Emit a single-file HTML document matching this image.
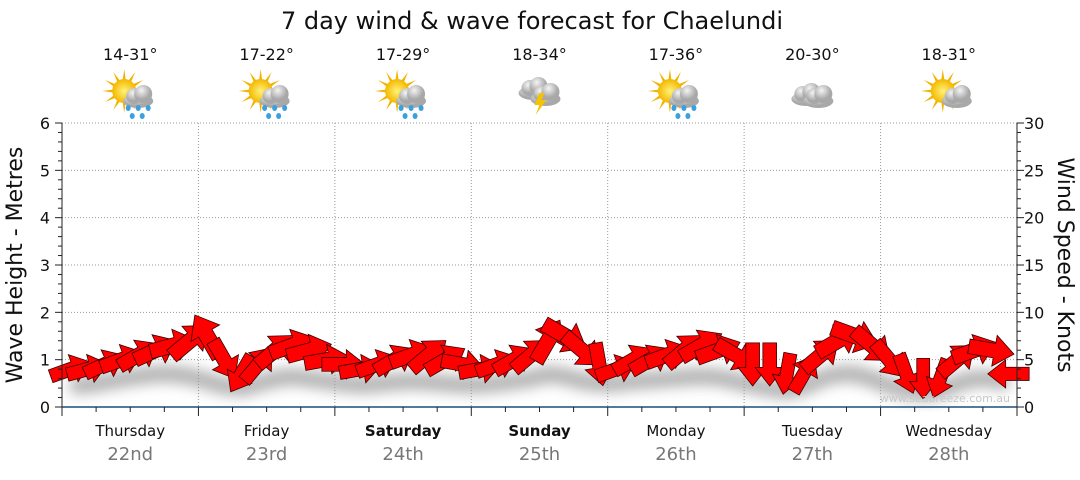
<!DOCTYPE html>
<html><head><meta charset="utf-8"><style>
body{margin:0;background:#fff;width:1080px;height:475px;overflow:hidden;font-family:"Liberation Sans","DejaVu Sans",sans-serif}
</style></head><body>
<svg id="c" width="1080" height="475" style="font-family:'DejaVu Sans','Liberation Sans',sans-serif">
<defs>
<filter id="bl" x="-10%" y="-100%" width="120%" height="300%"><feGaussianBlur stdDeviation="7"/></filter>
<radialGradient id="cg" cx="40%" cy="30%"><stop offset="0" stop-color="#f4f4f4"/><stop offset="1" stop-color="#a8a8a8"/></radialGradient>
<radialGradient id="sg"><stop offset="0" stop-color="#fff27a"/><stop offset="1" stop-color="#f4b800"/></radialGradient>
</defs>
<text x="532" y="29" text-anchor="middle" font-size="24" fill="#111">7 day wind &amp; wave forecast for Chaelundi</text>
<g id="grid"></g><g id="icons"></g><g id="shadow"></g><g id="arrows"></g><g id="axes"></g>
<text x="1010" y="402" text-anchor="end" font-size="11" fill="#c8c8c8">www.seabreeze.com.au</text>
<text transform="translate(22,265) rotate(-90)" text-anchor="middle" font-size="22" fill="#111">Wave Height - Metres</text>
<text transform="translate(1058,265) rotate(90)" text-anchor="middle" font-size="22" fill="#111">Wind Speed - Knots</text>
</svg>
<script>
const days=["Thursday","Friday","Saturday","Sunday","Monday","Tuesday","Wednesday"];
const dates=["22nd","23rd","24th","25th","26th","27th","28th"];
const boldDays=[false,false,true,true,false,false,false];
const temps=["14-31°","17-22°","17-29°","18-34°","17-36°","20-30°","18-31°"];
const icons=["sunrain","sunrain","sunrain","storm","sunrain","cloud","suncloud"];
const waveTicks=[0,1,2,3,4,5,6];
const windTicks=[0,5,10,15,20,25,30];
const windSpeed=[4,4,4.5,5,5.5,6,6.5,7, 7.5,5,3.5,4.5,6,6.5,6,5, 4.5,4,4.5,5,5.5,5.5,5,4.5, 4,4.5,5,5.5,7,7.5,6,4.5, 4,5,5,5.5,6,6.5,6,5.5, 4.5,4.5,3.5,3.5,5.5,7,7.5,6.5, 5,3.5,3,3,5,6,6,3.5];
const windDir=[20,15,25,20,30,25,15,40, 120,-60,-120,50,40,20,15,10, 0,10,20,30,20,40,30,-10, 10,20,30,40,60,-30,-40,-80, 20,30,30,20,40,30,20,-30, -90,-90,-100,60,40,30,-20,-40, -50,-70,-90,-110,40,20,-10,180];
const waveHeight=[0.7,0.72,0.78,0.85,0.9,0.95,0.95,0.9, 0.8,0.7,0.65,0.75,0.85,0.9,0.85,0.8, 0.75,0.72,0.74,0.78,0.8,0.78,0.75,0.72, 0.72,0.75,0.8,0.85,0.95,0.9,0.8,0.75, 0.75,0.8,0.82,0.85,0.88,0.9,0.88,0.8, 0.72,0.65,0.6,0.68,0.85,0.95,0.95,0.85, 0.7,0.6,0.55,0.6,0.75,0.85,0.85,0.75];
const NS="http://www.w3.org/2000/svg";
const X0=62,X1=1017,Y0=407,Y1=123;
const xDay=i=>X0+(X1-X0)*i/7;
const yM=v=>Y0-(Y0-Y1)*v/6;
const yK=v=>Y0-(Y0-Y1)*v/30;
const xStep=i=>X0+(X1-X0)*(i+0.5)/windSpeed.length;
function mk(t,a,p){const e=document.createElementNS(NS,t);for(const k in a)e.setAttribute(k,a[k]);(p||document.getElementById('c')).appendChild(e);return e;}
const grid=document.getElementById('grid'),axes=document.getElementById('axes'),ic=document.getElementById('icons');
waveTicks.forEach(v=>{if(v>0){const l=mk('line',{x1:X0,x2:X1,y1:yM(v),y2:yM(v),stroke:'#999','stroke-dasharray':'1,2'},grid);

}
const t=mk('text',{x:50,y:yM(v)+6,'text-anchor':'end','font-size':16,fill:'#111'},axes);t.textContent=v;

});
windTicks.forEach(v=>{const t=mk('text',{x:1024,y:yK(v)+6,'font-size':16,fill:'#111'},axes);t.textContent=v;

});
for(let m=0;m<=30;m++){const y=Y0-(Y0-Y1)*m/30;const L=m%5==0?7:4;
mk('line',{x1:X0,x2:X0-L,y1:y,y2:y,stroke:'#222'},axes);mk('line',{x1:X1,x2:X1+L,y1:y,y2:y,stroke:'#222'},axes);}
mk('line',{x1:X0,x2:X0,y1:Y1,y2:Y0,stroke:'#222'},axes);mk('line',{x1:X1,x2:X1,y1:Y1,y2:Y0,stroke:'#222'},axes);
mk('line',{x1:X0,x2:X1,y1:Y0,y2:Y0,stroke:'#1c4f7a','stroke-width':1.5},axes);
for(let q=0;q<=28;q++){const x=X0+(X1-X0)*q/28;mk('line',{x1:x,x2:x,y1:Y0,y2:Y0+(q%4==0?9:5),stroke:'#222'},axes);}
days.forEach((d,i)=>{
 if(i>0){const l=mk('line',{x1:xDay(i),x2:xDay(i),y1:Y1,y2:Y0,stroke:'#999','stroke-dasharray':'1,2'},grid);
 
 }
 const cx=(xDay(i)+xDay(i+1))/2;
 const t=mk('text',{x:cx,y:436,'text-anchor':'middle','font-size':15,fill:'#111','font-weight':boldDays[i]?'bold':'normal'},axes);t.textContent=d;
 
 
 const t2=mk('text',{x:cx,y:460,'text-anchor':'middle','font-size':18,fill:'#777'},axes);t2.textContent=dates[i];
 
 
 const t3=mk('text',{x:cx,y:60,'text-anchor':'middle','font-size':16,fill:'#111'},ic);t3.textContent=temps[i];
 
 
 const g=mk('g',{transform:`translate(${cx},95)`},ic);
 
 
 const k=icons[i];
 if(k!='cloud'&&k!='storm'){for(let r=0;r<12;r++){const a=r*30*Math.PI/180;mk('polygon',{points:`${-6+Math.cos(a+.2)*9},${-4+Math.sin(a+.2)*9} ${-6+Math.cos(a)*22},${-4+Math.sin(a)*22} ${-6+Math.cos(a-.2)*9},${-4+Math.sin(a-.2)*9}`,fill:'#f2b200'},g);}
  mk('circle',{cx:-6,cy:-4,r:12,fill:'url(#sg)'},g);}
 const cl=(dx,dy,s)=>{mk('ellipse',{cx:dx,cy:dy+4,rx:15*s,ry:7*s,fill:'url(#cg)'},g);mk('circle',{cx:dx-4*s,cy:dy-1,r:8*s,fill:'url(#cg)'},g);mk('circle',{cx:dx+5*s,cy:dy-3,r:9*s,fill:'url(#cg)'},g);};
 if(k=='cloud'){cl(-6,0,1);cl(6,2,1);}
 else if(k=='storm'){cl(-6,-6,1);cl(6,0,1);mk('polygon',{points:'0,-2 -5,10 0,10 -4,20 7,5 2,5 5,-2',fill:'#f5c400'},g);}
 else cl(8,2,1);
 if(k=='sunrain'){[[-2,13],[8,13],[18,13],[2,21],[12,21]].forEach(p=>mk('ellipse',{cx:p[0],cy:p[1],rx:2.5,ry:3,fill:'#3aa0e0'},g));}
});
// shadow
let d='';waveHeight.forEach((v,i)=>{d+=(i?'L':'M')+xStep(i)+','+(yM(v)+12);});
const sh=mk('path',{d,stroke:'#999','stroke-width':16,fill:'none',filter:'url(#bl)',opacity:0.8},document.getElementById('shadow'));


const ag=document.getElementById('arrows');
windSpeed.forEach((v,i)=>{
 const s=0.8+v/25;
 const pts=[[-22,-7],[3,-7],[3,-15],[22,0],[3,15],[3,7],[-22,7]].map(p=>(p[0]*s)+','+(p[1]*s)).join(' ');
 const a=mk('polygon',{points:pts,fill:'#ff0000',stroke:'#3a0000','stroke-width':0.8,transform:`translate(${xStep(i)},${yK(v)}) rotate(${-windDir[i]})`},ag);
 
 
});
</script>
</body></html>
